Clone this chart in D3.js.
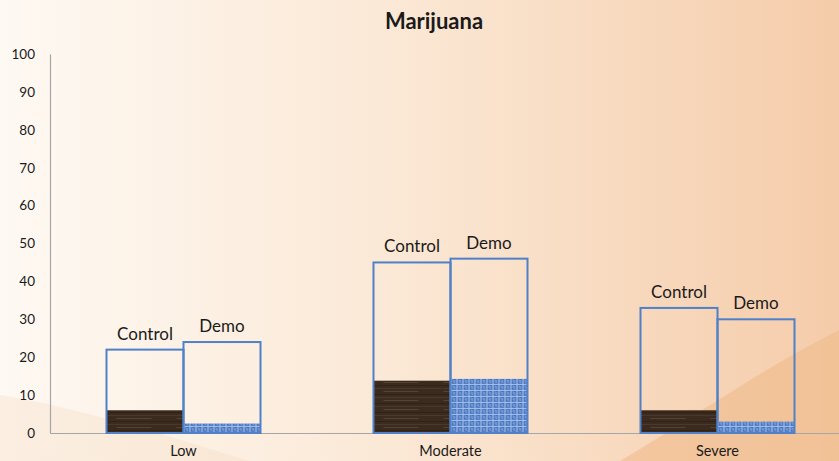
<!DOCTYPE html>
<html>
<head>
<meta charset="utf-8">
<script src="https://cdn.jsdelivr.net/npm/d3@7"></script>
<style>
  html, body { margin: 0; padding: 0; }
  body { width: 839px; height: 461px; overflow: hidden; }
  text { font-family: Lato, "Open Sans", sans-serif; fill: #1a1a1a; }
</style>
</head>
<body>
<svg id="chart"></svg>
<script>
var categories = ["Low", "Moderate", "Severe"];
var seriesNames = ["Control", "Demo"];
// full outlined bar height
var totalControl = [22, 45, 33];
var totalDemo = [24, 46, 30];
// textured part at the bottom
var fillControl = [6, 13.8, 6];
var fillDemo = [2.5, 14.3, 3];
var yTicks = [0, 10, 20, 30, 40, 50, 60, 70, 80, 90, 100];

var width = 839;
var height = 461;
var plotLeft = 50, plotRight = 851, plotTop = 54, plotBottom = 433;

var svg = d3.select("#chart")
    .attr("width", width)
    .attr("height", height);

var defs = svg.append("defs");

// background gradient
var bg = defs.append("linearGradient").attr("id", "bg")
    .attr("x1", "0").attr("y1", "0").attr("x2", "1").attr("y2", "0");
bg.append("stop").attr("offset", "0%").attr("stop-color", "#fef9f3");
bg.append("stop").attr("offset", "45%").attr("stop-color", "#fbe9d7");
bg.append("stop").attr("offset", "100%").attr("stop-color", "#f5ccaa");

// wood texture for Control
var wood = defs.append("pattern").attr("id", "wood")
    .attr("patternUnits", "userSpaceOnUse")
    .attr("width", 60).attr("height", 9);
wood.append("rect").attr("width", 60).attr("height", 9).attr("fill", "#3b2b1f");
wood.append("rect").attr("y", 1).attr("width", 60).attr("height", 1).attr("fill", "#4a3829");
wood.append("rect").attr("x", 10).attr("y", 4).attr("width", 35).attr("height", 1).attr("fill", "#56432f");
wood.append("rect").attr("y", 7).attr("width", 60).attr("height", 1).attr("fill", "#302219");

// woven blue texture for Demo
var weave = defs.append("pattern").attr("id", "weave")
    .attr("patternUnits", "userSpaceOnUse")
    .attr("width", 6).attr("height", 6);
weave.append("rect").attr("width", 6).attr("height", 6).attr("fill", "#5880c4");
weave.append("rect").attr("width", 6).attr("height", 1).attr("fill", "#9cbbea");
weave.append("rect").attr("width", 1).attr("height", 6).attr("fill", "#a3c0ec");
weave.append("rect").attr("x", 3).attr("y", 2).attr("width", 1).attr("height", 3).attr("fill", "#86a8e0");
weave.append("rect").attr("x", 2).attr("y", 4).attr("width", 1).attr("height", 1).attr("fill", "#3d63a8");
weave.append("rect").attr("x", 4).attr("y", 1).attr("width", 1).attr("height", 1).attr("fill", "#3d63a8");

svg.append("rect").attr("width", width).attr("height", height).attr("fill", "url(#bg)");
// soft swooshes in the background
svg.append("path")
    .attr("d", "M0,395 C90,410 180,440 250,461 L0,461 Z")
    .attr("fill", "#f4d6b8").attr("opacity", 0.3);
svg.append("path")
    .attr("d", "M839,330 C760,370 690,420 620,461 L839,461 Z")
    .attr("fill", "#f0ba8b").attr("opacity", 0.6);

var x = d3.scaleBand()
    .domain(categories)
    .range([plotLeft, plotRight]);
var xInner = d3.scaleBand()
    .domain(seriesNames)
    .range([56.5, 210.5]);
var y = d3.scaleLinear()
    .domain([0, 100])
    .range([plotBottom, plotTop]);

// title
svg.append("text")
    .attr("x", 434).attr("y", 29)
    .attr("text-anchor", "middle")
    .attr("font-size", 22).attr("font-weight", "bold")
    .text("Marijuana");

// axes
var yAxis = d3.axisLeft(y).tickValues(yTicks).tickSize(0).tickPadding(15);
var gy = svg.append("g")
    .attr("transform", "translate(" + plotLeft + ",0)")
    .call(yAxis);
gy.select(".domain").attr("stroke", "#a6a6a6").attr("stroke-width", 1.2);
gy.selectAll("text").attr("font-size", 13.5).style("font-family", "Lato, sans-serif").attr("fill", "#1a1a1a");

var xAxis = d3.axisBottom(x).tickSize(0).tickPadding(13);
var gx = svg.append("g")
    .attr("transform", "translate(0," + plotBottom + ")")
    .call(xAxis);
gx.select(".domain").attr("stroke", "#a6a6a6").attr("stroke-width", 1.2);
gx.selectAll("text").attr("font-size", 14.5).style("font-family", "Lato, sans-serif").attr("fill", "#1a1a1a");

var rows = [];
categories.forEach(function (c, i) {
    rows.push({ cat: c, s: "Control", total: totalControl[i], fill: fillControl[i], tex: "url(#wood)" });
    rows.push({ cat: c, s: "Demo", total: totalDemo[i], fill: fillDemo[i], tex: "url(#weave)" });
});

var bars = svg.append("g").selectAll("g")
    .data(rows)
    .enter()
    .append("g")
    .attr("transform", function (d) { return "translate(" + (x(d.cat) + xInner(d.s)) + ",0)"; });

bars.append("rect")
    .attr("x", 0)
    .attr("y", function (d) { return y(d.fill); })
    .attr("width", xInner.bandwidth())
    .attr("height", function (d) { return y(0) - y(d.fill); })
    .attr("fill", function (d) { return d.tex; });

bars.append("rect")
    .attr("x", 0)
    .attr("y", function (d) { return y(d.total); })
    .attr("width", xInner.bandwidth())
    .attr("height", function (d) { return y(0) - y(d.total); })
    .attr("fill", "none")
    .attr("stroke", "#4f80c8")
    .attr("stroke-width", 2);

bars.append("text")
    .attr("x", xInner.bandwidth() / 2)
    .attr("y", function (d) { return y(d.total) - 10; })
    .attr("text-anchor", "middle")
    .attr("font-size", 17)
    .text(function (d) { return d.s; });
</script>
</body>
</html>
